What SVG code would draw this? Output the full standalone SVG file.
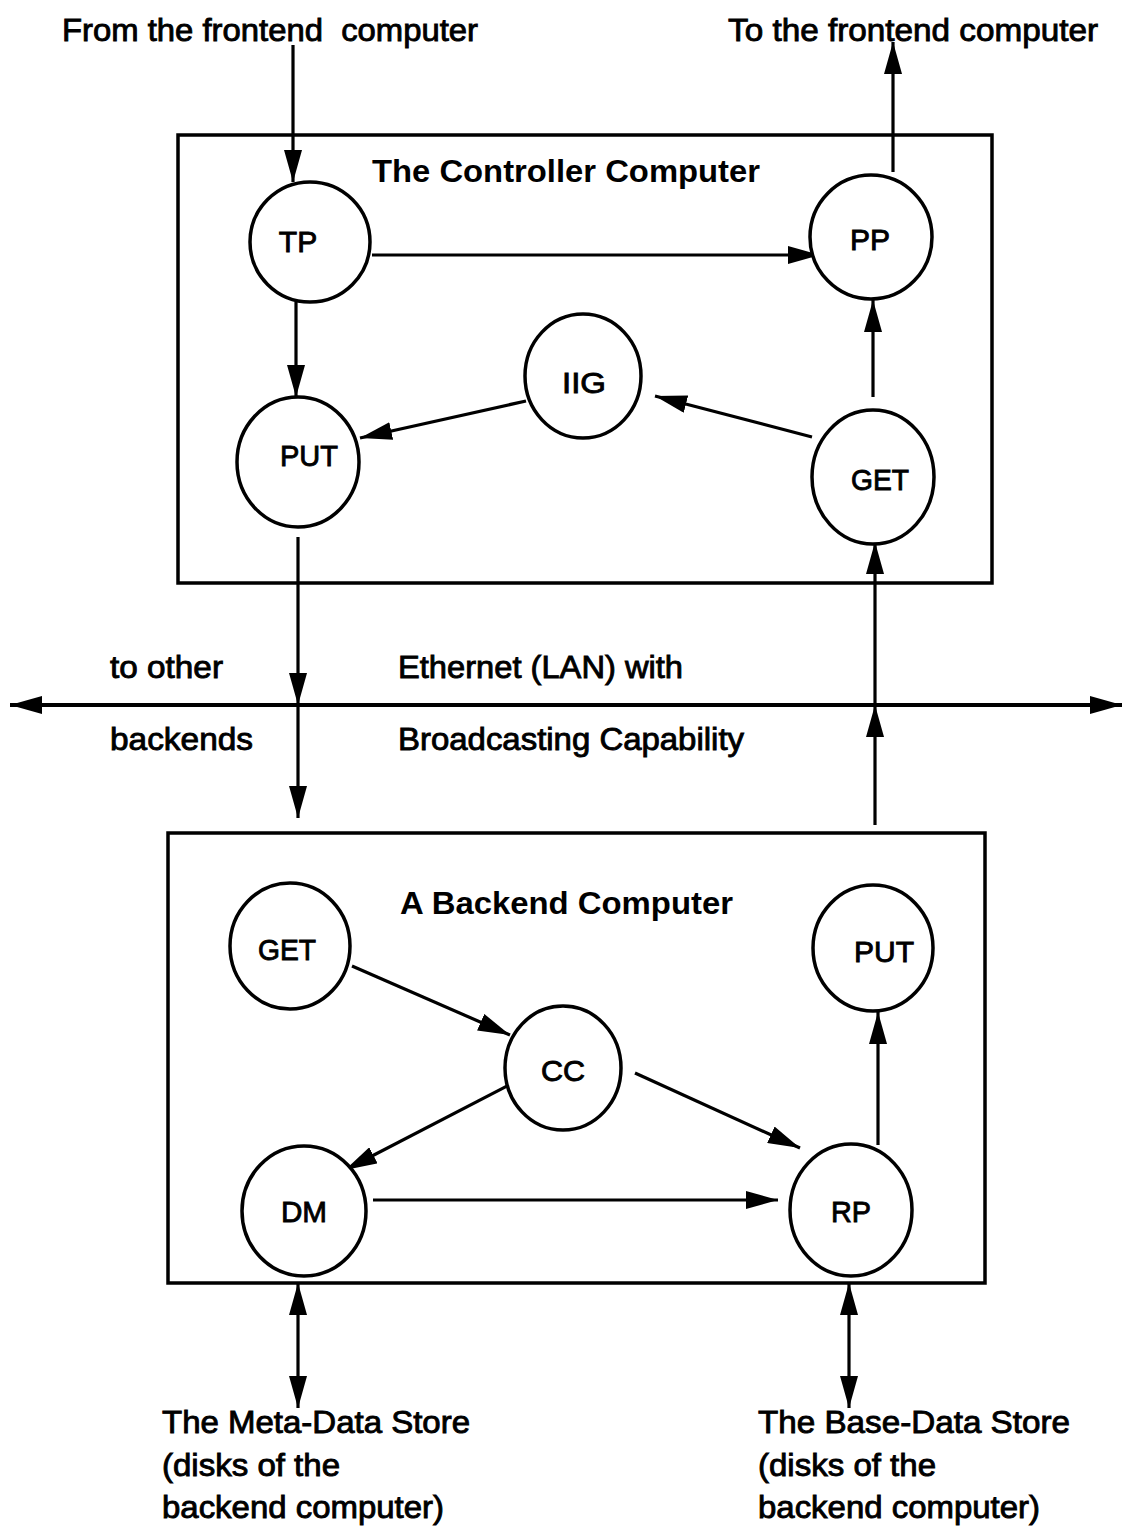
<svg xmlns="http://www.w3.org/2000/svg" width="1127" height="1526" viewBox="0 0 1127 1526">
<style>
.t{font-family:"Liberation Sans",Arial,Helvetica,sans-serif;font-size:32px;fill:#000;stroke:#000;stroke-width:0.9px}
.b{font-family:"Liberation Sans",Arial,Helvetica,sans-serif;font-size:32px;font-weight:bold;fill:#000}
.n{font-family:"Liberation Sans",Arial,Helvetica,sans-serif;font-size:30px;fill:#000;stroke:#000;stroke-width:0.9px;text-anchor:middle}
.box{fill:none;stroke:#000;stroke-width:3.5}
.node{fill:#fff;stroke:#000;stroke-width:3.5}
.c{fill:none;stroke:#000;stroke-width:3.2;marker-end:url(#ah)}
</style>
<defs>
<marker id="ah" markerUnits="userSpaceOnUse" markerWidth="32" markerHeight="18" refX="32" refY="9" orient="auto-start-reverse" viewBox="0 0 32 18">
<path d="M0,0 L32,9 L0,18 z" fill="#000"/>
</marker>
</defs>
<rect id="controller" class="box" x="178" y="135" width="814" height="448"/>
<rect id="backend" class="box" x="168" y="833" width="817" height="450"/>
<g id="labels">
<text class="t" x="62" y="41" textLength="416" lengthAdjust="spacingAndGlyphs">From the frontend&#160; computer</text>
<text class="t" x="728" y="41" textLength="370" lengthAdjust="spacingAndGlyphs">To the frontend computer</text>
<text class="b" x="372" y="182" textLength="388" lengthAdjust="spacingAndGlyphs">The Controller Computer</text>
<text class="b" x="400" y="914" textLength="333" lengthAdjust="spacingAndGlyphs">A Backend Computer</text>
<text class="t" x="110" y="678" textLength="113" lengthAdjust="spacingAndGlyphs">to other</text>
<text class="t" x="110" y="750" textLength="143" lengthAdjust="spacingAndGlyphs">backends</text>
<text class="t" x="398" y="678" textLength="285" lengthAdjust="spacingAndGlyphs">Ethernet (LAN) with</text>
<text class="t" x="398" y="750" textLength="346" lengthAdjust="spacingAndGlyphs">Broadcasting Capability</text>
<text class="t" x="162" y="1433" textLength="308" lengthAdjust="spacingAndGlyphs">The Meta-Data Store</text>
<text class="t" x="162" y="1476" textLength="178" lengthAdjust="spacingAndGlyphs">(disks of the</text>
<text class="t" x="162" y="1518" textLength="282" lengthAdjust="spacingAndGlyphs">backend computer)</text>
<text class="t" x="758" y="1433" textLength="312" lengthAdjust="spacingAndGlyphs">The Base-Data Store</text>
<text class="t" x="758" y="1476" textLength="178" lengthAdjust="spacingAndGlyphs">(disks of the</text>
<text class="t" x="758" y="1518" textLength="282" lengthAdjust="spacingAndGlyphs">backend computer)</text>
</g>
<g id="connectors">
<line class="c" x1="293" y1="45" x2="293" y2="182"/>
<line class="c" x1="893" y1="172" x2="893" y2="42"/>
<line class="c" x1="372" y1="255" x2="820" y2="255"/>
<line class="c" x1="296" y1="302" x2="296" y2="397"/>
<line class="c" x1="526" y1="401" x2="360" y2="438"/>
<line class="c" x1="812" y1="437" x2="655" y2="396"/>
<line class="c" x1="873" y1="397" x2="873" y2="300"/>
<line class="c" x1="298" y1="537" x2="298" y2="705"/>
<line class="c" x1="298" y1="705" x2="298" y2="818"/>
<line class="c" x1="875" y1="825" x2="875" y2="705"/>
<line class="c" x1="875" y1="705" x2="875" y2="542"/>
<line class="c" x1="10" y1="705" x2="1122" y2="705" style="marker-start:url(#ah);stroke-width:4"/>
<line class="c" x1="352" y1="966" x2="510" y2="1035"/>
<line class="c" x1="635" y1="1073" x2="800" y2="1148"/>
<line class="c" x1="513" y1="1083" x2="345" y2="1170"/>
<line class="c" x1="373" y1="1200" x2="778" y2="1200"/>
<line class="c" x1="878" y1="1145" x2="878" y2="1012"/>
<line class="c" x1="298" y1="1283" x2="298" y2="1408" style="marker-start:url(#ah)"/>
<line class="c" x1="849" y1="1283" x2="849" y2="1408" style="marker-start:url(#ah)"/>
</g>
<g id="TP"><ellipse class="node" cx="310" cy="242" rx="60" ry="60"/><text class="n" x="298" y="252">TP</text></g>
<g id="PP"><ellipse class="node" cx="871" cy="237" rx="61" ry="62"/><text class="n" x="870" y="250">PP</text></g>
<g id="IIG"><ellipse class="node" cx="583" cy="376" rx="58" ry="62"/><text class="n" x="584" y="393" textLength="44" lengthAdjust="spacingAndGlyphs">IIG</text></g>
<g id="PUT1"><ellipse class="node" cx="298" cy="462" rx="61" ry="65"/><text class="n" x="309" y="466" textLength="58" lengthAdjust="spacingAndGlyphs">PUT</text></g>
<g id="GET1"><ellipse class="node" cx="873" cy="477" rx="61" ry="67"/><text class="n" x="880" y="490" textLength="58" lengthAdjust="spacingAndGlyphs">GET</text></g>
<g id="GET2"><ellipse class="node" cx="290" cy="946" rx="60" ry="63"/><text class="n" x="287" y="960" textLength="58" lengthAdjust="spacingAndGlyphs">GET</text></g>
<g id="PUT2"><ellipse class="node" cx="873" cy="948" rx="60" ry="63"/><text class="n" x="884" y="962" textLength="60" lengthAdjust="spacingAndGlyphs">PUT</text></g>
<g id="CC"><ellipse class="node" cx="563" cy="1068" rx="58" ry="62"/><text class="n" x="563" y="1081" textLength="44" lengthAdjust="spacingAndGlyphs">CC</text></g>
<g id="DM"><ellipse class="node" cx="304" cy="1211" rx="62" ry="65"/><text class="n" x="304" y="1222" textLength="46" lengthAdjust="spacingAndGlyphs">DM</text></g>
<g id="RP"><ellipse class="node" cx="851" cy="1210" rx="61" ry="66"/><text class="n" x="851" y="1222" textLength="40" lengthAdjust="spacingAndGlyphs">RP</text></g>
</svg>
